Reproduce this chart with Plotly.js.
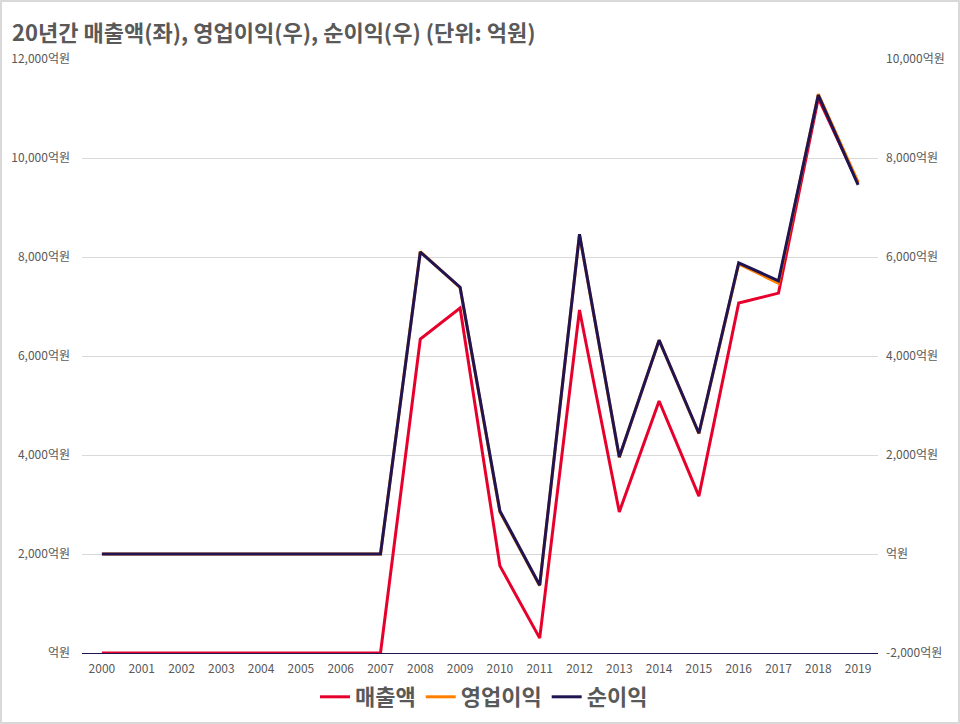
<!DOCTYPE html>
<html>
<head>
<meta charset="utf-8">
<script src="https://cdn.plot.ly/plotly-3.0.1.min.js"></script>
<style>
  html, body { margin: 0; padding: 0; background: #fff; }
  #wrap { position: relative; width: 960px; height: 724px; }
  #frame { position: absolute; left: 0; top: 0; width: 960px; height: 724px;
           box-sizing: border-box; border: 2px solid #d9d9d9; pointer-events: none; }
</style>
</head>
<body>
<div id="wrap">
  <div id="chart"></div>
  <div id="frame"></div>
</div>
<script>
// 연도
var years = ['2000', '2001', '2002', '2003', '2004', '2005', '2006', '2007', '2008', '2009',
             '2010', '2011', '2012', '2013', '2014', '2015', '2016', '2017', '2018', '2019'];

// 억원
var sales = [0, 0, 0, 0, 0, 0, 0, 0, 6340, 6970,
             1760, 300, 6930, 2850, 5090, 3170, 7070, 7270, 11210, 9495];
var opProfit = [0, 0, 0, 0, 0, 0, 0, 0, 6110, 5380,
                850, -640, 6450, 1950, 4320, 2430, 5860, 5470, 9290, 7515];
var netProfit = [0, 0, 0, 0, 0, 0, 0, 0, 6100, 5390,
                 870, -630, 6460, 1960, 4320, 2440, 5880, 5520, 9270, 7455];

var leftTicks = [0, 2000, 4000, 6000, 8000, 10000, 12000];
var leftLabels = ['억원', '2,000억원', '4,000억원', '6,000억원', '8,000억원', '10,000억원', '12,000억원'];
var rightTicks = [-2000, 0, 2000, 4000, 6000, 8000, 10000];
var rightLabels = ['-2,000억원', '억원', '2,000억원', '4,000억원', '6,000억원', '8,000억원', '10,000억원'];

var FONT = '"Noto Sans CJK KR", "Noto Sans", sans-serif';
var GREY = '#595959';

var traces = [
  { x: years, y: sales, name: '매출액', type: 'scatter', mode: 'lines',
    line: { color: '#e8002d', width: 3 }, yaxis: 'y' },
  { x: years, y: opProfit, name: '영업이익', type: 'scatter', mode: 'lines',
    line: { color: '#ff8000', width: 3 }, yaxis: 'y2' },
  { x: years, y: netProfit, name: '순이익', type: 'scatter', mode: 'lines',
    line: { color: '#201452', width: 3 }, yaxis: 'y2' }
];

var layout = {
  width: 960, height: 724,
  margin: { l: 82, r: 82, t: 59, b: 71 },
  paper_bgcolor: '#fff', plot_bgcolor: '#fff',
  font: { family: FONT, color: GREY, size: 12 },
  title: {
    text: '<b>20년간 매출액(좌), 영업이익(우), 순이익(우) (단위: 억원)</b>',
    font: { family: FONT, size: 22, color: GREY },
    xref: 'container', x: 12 / 960, xanchor: 'left',
    yref: 'container', y: 1 - 33 / 724, yanchor: 'middle'
  },
  xaxis: {
    type: 'category', range: [-0.5, 19.5], automargin: false,
    showgrid: false, showline: true, linecolor: '#201452', linewidth: 1,
    ticks: '', ticklabelstandoff: 5, tickfont: { size: 12, color: GREY }, fixedrange: true
  },
  yaxis: {
    range: [0, 12000], tickvals: leftTicks, ticktext: leftLabels, automargin: false,
    showgrid: true, gridcolor: '#d9d9d9', gridwidth: 1, zeroline: false,
    ticks: '', ticklabelstandoff: 11, tickfont: { size: 12, color: GREY }
  },
  yaxis2: {
    range: [-2000, 10000], tickvals: rightTicks, ticktext: rightLabels, automargin: false,
    overlaying: 'y', side: 'right', showgrid: false, zeroline: false,
    ticks: '', ticklabelstandoff: 7, tickfont: { size: 12, color: GREY }
  },
  showlegend: true,
  legend: {
    orientation: 'h', xref: 'container', x: 484 / 960, xanchor: 'center',
    yref: 'container', y: 27 / 724, yanchor: 'middle',
    font: { family: FONT, size: 22, color: GREY, weight: 'bold' },
    itemwidth: 30, tracegroupgap: 0
  }
};

Plotly.newPlot('chart', traces, layout, { displayModeBar: false, staticPlot: true });
</script>
</body>
</html>
